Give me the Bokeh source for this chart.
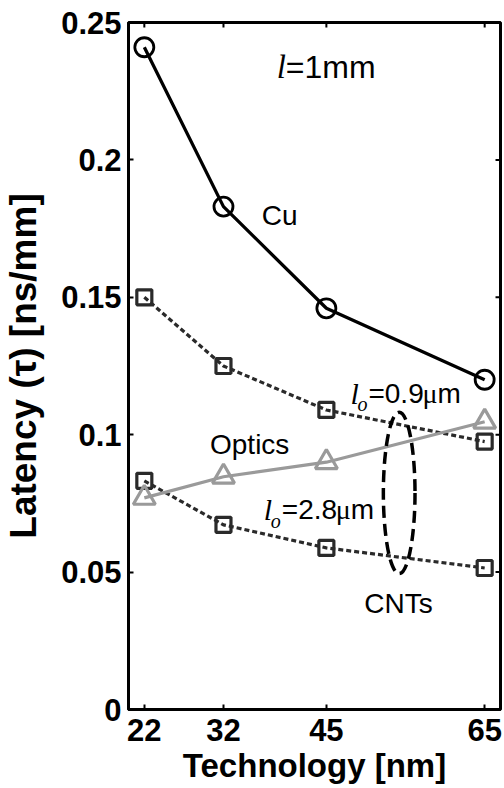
from bokeh.plotting import figure
from bokeh.models import FixedTicker, Range1d
from bokeh.core.properties import value
from bokeh.embed import file_html
from bokeh.resources import INLINE

# ---- data ----
tech_nm = [22, 32, 45, 65]
cu = [0.241, 0.183, 0.146, 0.120]
cnt_09 = [0.150, 0.125, 0.109, 0.0975]
cnt_28 = [0.0832, 0.0672, 0.0588, 0.0515]
optics = [0.077, 0.0847, 0.0900, 0.1047]
y_ticks = [0, 0.05, 0.1, 0.15, 0.2, 0.25]
y_tick_labels = ["0", "0.05", "0.1", "0.15", "0.2", "0.25"]
x_ticks = [22, 32, 45, 65]
x_tick_labels = ["22", "32", "45", "65"]

SANS = "Liberation Sans"
SERIF = "Liberation Serif"

X0, X1 = 20, 67
Y0, Y1 = 0, 0.25
FRAME_W, FRAME_H = 374, 687

p = figure(width=504, height=788, output_backend="svg", toolbar_location=None,
           x_range=Range1d(X0, X1), y_range=Range1d(Y0, Y1),
           min_border_left=126, min_border_right=4, min_border_top=22, min_border_bottom=79,
           background_fill_color="white", border_fill_color="white")
p.grid.visible = False
p.outline_line_color = "black"
p.outline_line_width = 3

def style_axis(ax):
    ax.axis_line_width = 3
    ax.axis_line_color = "black"
    ax.major_tick_in = 5
    ax.major_tick_out = 0
    ax.major_tick_line_width = 2
    ax.major_tick_line_color = "black"
    ax.minor_tick_line_color = None
    ax.major_label_text_font = SANS
    ax.major_label_text_font_style = "bold"
    ax.major_label_text_font_size = "31px"
    ax.major_label_text_color = "black"
    ax.axis_label_text_font = SANS
    ax.axis_label_text_font_style = "bold"
    ax.axis_label_text_color = "black"

yax = p.yaxis[0]
yax.ticker = FixedTicker(ticks=y_ticks)
yax.major_label_overrides = {t: l for t, l in zip(y_ticks, y_tick_labels)}
style_axis(yax)
yax.major_label_standoff = 7
yax.axis_label = "Latency (\u03c4) [ns/mm]"
yax.axis_label_text_font_size = "37px"
yax.axis_label_standoff = 14

xax = p.xaxis[0]
xax.ticker = FixedTicker(ticks=x_ticks)
xax.major_label_overrides = {t: l for t, l in zip(x_ticks, x_tick_labels)}
style_axis(xax)
xax.major_label_standoff = 9
xax.axis_label = "Technology [nm]"
xax.axis_label_text_font_size = "33px"
xax.axis_label_standoff = 3

# inward ticks on the top and right edges of the box
tl_y = 5 / FRAME_H * (Y1 - Y0)
tl_x = 5 / FRAME_W * (X1 - X0)
p.segment(x0=x_ticks, x1=x_ticks, y0=[Y1] * len(x_ticks), y1=[Y1 - tl_y] * len(x_ticks),
          line_color="black", line_width=2)
p.segment(x0=[X1] * len(y_ticks), x1=[X1 - tl_x] * len(y_ticks), y0=y_ticks, y1=y_ticks,
          line_color="black", line_width=2)

# ---- series ----
p.line(tech_nm, cu, line_color="black", line_width=3.3)
p.scatter(tech_nm, cu, marker="circle", size=19, fill_color=None,
          line_color="black", line_width=2.8)

dark = "#2a2a2a"
p.line(tech_nm, cnt_09, line_color=dark, line_width=3.2, line_dash="5 3")
p.scatter(tech_nm, cnt_09, marker="square", size=15, fill_color=None,
          line_color=dark, line_width=3.2)
p.line(tech_nm, cnt_28, line_color=dark, line_width=3.2, line_dash="5 3")
p.scatter(tech_nm, cnt_28, marker="square", size=15, fill_color=None,
          line_color=dark, line_width=3.2)

gray = "#9a9a9a"
p.line(tech_nm, optics, line_color=gray, line_width=3.2)
p.scatter(tech_nm, optics, marker="triangle", size=22, fill_color=None,
          line_color=gray, line_width=3.2)

# CNT grouping ellipse
p.ellipse(x=[54.2], y=[0.0788], width=[4.0], height=[0.0588], fill_color=None,
          line_color="black", line_width=3.5, line_dash="12 6")

# ---- annotations ----
def txt(x, y, s, font=SANS, size="28px", style="normal", dx=0, dy=0):
    p.text(x=[x], y=[y], text=[s], text_font=value(font), text_font_size=value(size),
           text_font_style=value(style), text_color="black", text_align="left",
           text_baseline="middle", x_offset=dx, y_offset=dy)

# l = 1mm
txt(38.73, 0.2339, "l", font=SERIF, size="33px", style="italic")
txt(38.73, 0.2339, "=1mm", size="32px", dx=9)

txt(36.84, 0.1799, "Cu")
txt(30.3, 0.0964, "Optics")
txt(49.8, 0.0387, "CNTs")

def lo_label(x, y, val):
    txt(x, y, "l", font=SERIF, size="30px", style="italic")
    txt(x, y, "o", font=SERIF, size="20px", style="italic", dx=7, dy=11)
    txt(x, y, "=" + val, dx=18)
    txt(x, y, "\u03bc", font=SERIF, dx=72)
    txt(x, y, "m", dx=87)

lo_label(48.04, 0.115, "0.9")
lo_label(37.1, 0.0726, "2.8")

open("out.html", "w").write(file_html(p, INLINE))
